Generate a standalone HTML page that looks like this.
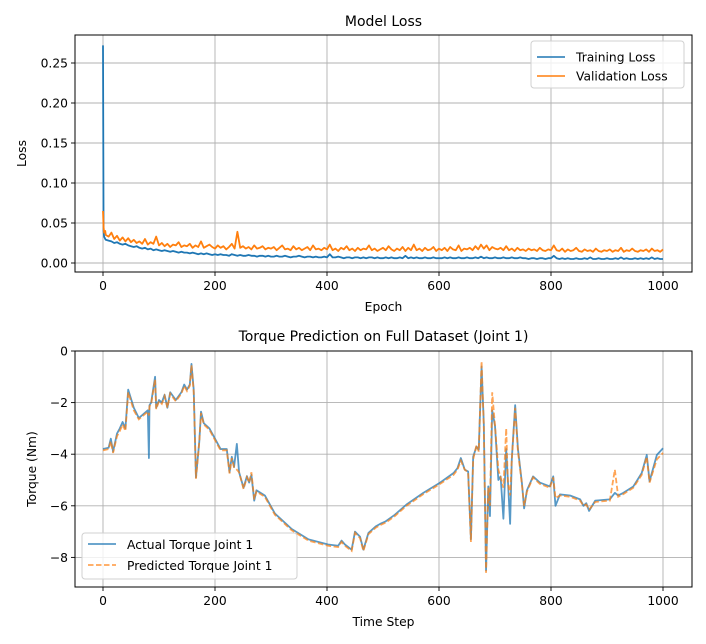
<!DOCTYPE html>
<html><head><meta charset="utf-8"><style>
body{margin:0;background:#fff;}
svg{display:block;font-family:"DejaVu Sans","Liberation Sans",sans-serif;}
</style></head><body>
<svg id="fig" width="706" height="644" viewBox="0 0 706 644" xmlns="http://www.w3.org/2000/svg">
<rect width="706" height="644" fill="#fff"/>
<g id="topchart"></g>
<g id="botchart"></g>
</svg>
<script>
const lossEpochs = [0,1,2,4];
const trainLoss1000 = [272,40,33,30,
29,28,27,25,26,24,23,24,22,21,
20,21,19,18,19,17,18,16,17,16,
15,16,15,14,15,14,13,14,13,13,
12,13,12,11,12,11,12,11,10,11,
10,11,10,10,9,11,10,9,10,9,
9,10,9,9,8,9,9,8,9,8,
8,9,8,8,9,8,7,8,8,9,
8,7,8,8,7,8,7,7,8,7,
11,7,7,8,7,6,7,7,6,7,
7,6,7,6,7,7,6,7,6,6,
7,6,7,6,6,7,6,9,6,7,
6,7,6,6,7,6,6,7,6,6,
6,7,6,7,6,6,7,6,6,7,
6,6,7,6,8,6,7,6,6,7,
6,6,7,6,6,7,6,6,7,6,
6,5,6,6,5,6,6,5,6,6,
9,6,5,6,5,6,5,5,6,5,
5,6,5,7,5,5,6,5,5,6,
5,5,6,5,7,5,6,5,5,6,
5,6,5,6,5,7,5,6,5,5];
const valLoss1000 = [65,45,38,40,
35,33,38,30,34,28,32,27,31,26,
29,25,27,24,30,23,26,24,33,22,
25,21,24,20,23,22,26,20,22,21,
24,19,22,20,27,19,21,23,20,18,
22,19,21,17,20,24,18,39,19,21,
18,20,17,22,18,19,21,17,19,18,
20,16,19,22,17,18,16,21,17,19,
16,18,20,16,22,17,18,16,19,17,
23,16,18,15,19,17,21,16,18,15,
19,16,18,17,22,16,18,15,17,19,
16,21,17,15,18,16,20,15,19,16,
23,16,18,15,19,16,17,20,15,18,
16,19,15,20,17,16,22,15,18,17,
19,16,21,17,23,18,22,16,20,18,
17,19,16,21,16,18,15,19,16,17,
15,18,16,17,15,19,16,15,17,16,
22,16,15,18,14,17,15,16,19,15,
14,17,15,16,14,18,15,14,16,15,
17,14,16,15,19,14,16,15,18,15,
14,16,15,17,14,18,15,16,14,17];
for(let e=5;e<=1000;e+=5) lossEpochs.push(e);
const lossYTicks = [0,0.05,0.10,0.15,0.20,0.25];
const lossYLabels = ["0.00","0.05","0.10","0.15","0.20","0.25"];
const xTicks = [0,200,400,600,800,1000];

const torqueSteps = [0,10,14,18,25,30,35,40,45,55,64,80,82,83,86,93,95,100,105,110,115,120,130,140,145,150,155,158,162,166,172,175,180,190,200,210,221,226,230,234,239,243,251,257,261,265,270,274,289,307,337,367,402,420,426,432,444,450,459,465,474,487,495,505,521,542,572,602,626,633,639,646,652,657,661,667,671,676,680,684,688,691,695,700,706,710,715,720,723,727,730,736,741,748,752,757,768,780,798,804,808,816,834,852,858,863,868,879,905,914,920,929,947,962,971,976,989,1000];
const actualTorque = [-3.8,-3.75,-3.4,-3.9,-3.2,-3.0,-2.75,-3.0,-1.5,-2.2,-2.6,-2.3,-4.15,-2.1,-2.0,-1.0,-2.2,-1.9,-2.0,-1.7,-2.2,-1.6,-1.9,-1.6,-1.3,-1.5,-1.3,-0.5,-1.5,-4.9,-3.5,-2.35,-2.8,-3.0,-3.4,-3.8,-3.8,-4.7,-4.1,-4.5,-3.6,-4.7,-5.3,-4.85,-5.1,-4.8,-5.8,-5.4,-5.6,-6.3,-6.9,-7.3,-7.5,-7.55,-7.35,-7.5,-7.7,-7.0,-7.2,-7.7,-7.05,-6.8,-6.7,-6.6,-6.35,-5.95,-5.5,-5.1,-4.73,-4.54,-4.15,-4.6,-4.67,-7.3,-4.1,-3.7,-3.83,-0.6,-2.8,-8.5,-5.25,-6.4,-2.3,-2.9,-5.0,-4.86,-6.5,-3.8,-5.0,-6.7,-4.2,-2.1,-3.8,-5.1,-6.1,-5.4,-4.86,-5.1,-5.25,-4.86,-6.0,-5.56,-5.6,-5.75,-6.0,-5.9,-6.2,-5.8,-5.75,-5.5,-5.6,-5.5,-5.25,-4.73,-4.03,-5.05,-4.03,-3.77];
const predictedTorque = [-3.85,-3.8,-3.5,-3.95,-3.3,-3.1,-2.85,-3.1,-1.6,-2.3,-2.65,-2.35,-2.5,-2.15,-2.05,-1.1,-2.25,-1.95,-2.05,-1.75,-2.2,-1.65,-1.95,-1.65,-1.35,-1.55,-1.35,-0.55,-1.6,-4.95,-3.5,-2.4,-2.85,-3.05,-3.45,-3.85,-3.85,-4.75,-4.15,-4.5,-4.6,-4.7,-5.35,-4.9,-5.1,-4.7,-5.75,-5.45,-5.65,-6.35,-6.95,-7.35,-7.55,-7.6,-7.4,-7.55,-7.75,-7.05,-7.25,-7.75,-7.1,-6.85,-6.75,-6.65,-6.4,-6.0,-5.55,-5.15,-4.8,-4.6,-4.25,-4.6,-4.7,-7.4,-4.2,-3.65,-3.9,-0.4,-2.9,-8.6,-5.3,-6.0,-1.6,-2.9,-4.6,-4.9,-5.3,-3.0,-5.1,-5.6,-4.2,-2.2,-3.9,-5.15,-6.0,-5.45,-4.9,-5.15,-5.3,-4.9,-5.7,-5.6,-5.65,-5.8,-6.0,-5.95,-6.15,-5.85,-5.8,-4.6,-5.65,-5.55,-5.3,-4.8,-4.1,-5.1,-4.2,-3.95];
const torqueYTicks = [0,-2,-4,-6,-8];
const torqueYLabels = ["0","−2","−4","−6","−8"];

const NS="http://www.w3.org/2000/svg";
function mk(parent,tag,attrs,text){const el=document.createElementNS(NS,tag);for(const k in attrs)el.setAttribute(k,attrs[k]);if(text!==undefined)el.textContent=text;parent.appendChild(el);return el;}

const L=75,R=692;
function xs(v){return 103+v*0.56;}
function poly(parent,xsArr,ysArr,fx,fy,attrs){
 let d='';for(let i=0;i<xsArr.length;i++)d+=(i?'L':'M')+fx(xsArr[i]).toFixed(2)+' '+fy(ysArr[i]).toFixed(2);
 attrs.d=d;attrs.fill='none';return mk(parent,'path',attrs);
}
const FS=12.3, TS=14;

// ---------- Top chart ----------
const topG=document.getElementById('topchart');
const T1=35,B1=272;
function ys1(v){return 263-v*800;}
const title1=mk(topG,'text',{x:383.5,y:26,'font-size':TS,'text-anchor':'middle',fill:'#000'},'Model Loss');


xTicks.forEach((t,i)=>{
 const g=mk(topG,'line',{x1:xs(t),x2:xs(t),y1:T1,y2:B1,stroke:'#b0b0b0','stroke-width':0.9});
 
 
 mk(topG,'line',{x1:xs(t),x2:xs(t),y1:B1,y2:B1+4,stroke:'#000','stroke-width':0.9});
 const tl=mk(topG,'text',{x:xs(t),y:B1+18,'font-size':FS,'text-anchor':'middle'},String(t));
 
 
});
lossYTicks.forEach((t,i)=>{
 const g=mk(topG,'line',{x1:L,x2:R,y1:ys1(t),y2:ys1(t),stroke:'#b0b0b0','stroke-width':0.9});
 
 
 mk(topG,'line',{x1:L-4,x2:L,y1:ys1(t),y2:ys1(t),stroke:'#000','stroke-width':0.9});
 const tl=mk(topG,'text',{x:L-7,y:ys1(t)+4.5,'font-size':FS,'text-anchor':'end'},lossYLabels[i]);
 
 
});
const trainP=poly(topG,lossEpochs,trainLoss1000,xs,v=>ys1(v/1000),{stroke:'#1f77b4','stroke-width':1.8,'stroke-linejoin':'round'});


const valP=poly(topG,lossEpochs,valLoss1000,xs,v=>ys1(v/1000),{stroke:'#ff7f0e','stroke-width':1.8,'stroke-linejoin':'round'});


mk(topG,'rect',{x:L,y:T1,width:R-L,height:B1-T1,fill:'none',stroke:'#000','stroke-width':1});
const xt1=mk(topG,'text',{x:383.5,y:311,'font-size':FS,'text-anchor':'middle'},'Epoch');


const yt1=mk(topG,'text',{x:26,y:153.5,'font-size':FS,'text-anchor':'middle',transform:'rotate(-90 26 153.5)'},'Loss');


const lg1=mk(topG,'g',{});


mk(lg1,'rect',{x:531,y:41,width:153,height:47,rx:3,fill:'#fff','fill-opacity':0.8,stroke:'#d0d0d0'});
mk(lg1,'line',{x1:537,x2:565,y1:57,y2:57,stroke:'#1f77b4','stroke-width':1.6});
mk(lg1,'text',{x:576,y:61.5,'font-size':FS},'Training Loss');
mk(lg1,'line',{x1:537,x2:565,y1:76,y2:76,stroke:'#ff7f0e','stroke-width':1.6});
mk(lg1,'text',{x:576,y:80.5,'font-size':FS},'Validation Loss');

// ---------- Bottom chart ----------
const botG=document.getElementById('botchart');
const T2=351,B2=587;
function ys2(v){return 351-v*25.8;}
const title2=mk(botG,'text',{x:383.5,y:341,'font-size':TS,'text-anchor':'middle'},'Torque Prediction on Full Dataset (Joint 1)');


xTicks.forEach((t,i)=>{
 const g=mk(botG,'line',{x1:xs(t),x2:xs(t),y1:T2,y2:B2,stroke:'#b0b0b0','stroke-width':0.9});
 
 
 mk(botG,'line',{x1:xs(t),x2:xs(t),y1:B2,y2:B2+4,stroke:'#000','stroke-width':0.9});
 const tl=mk(botG,'text',{x:xs(t),y:B2+18,'font-size':FS,'text-anchor':'middle'},String(t));
 
 
});
torqueYTicks.forEach((t,i)=>{
 const g=mk(botG,'line',{x1:L,x2:R,y1:ys2(t),y2:ys2(t),stroke:'#b0b0b0','stroke-width':0.9});
 
 
 mk(botG,'line',{x1:L-4,x2:L,y1:ys2(t),y2:ys2(t),stroke:'#000','stroke-width':0.9});
 const tl=mk(botG,'text',{x:L-7,y:ys2(t)+4.5,'font-size':FS,'text-anchor':'end'},torqueYLabels[i]);
 
 
});
const actP=poly(botG,torqueSteps,actualTorque,xs,ys2,{stroke:'#1f77b4','stroke-opacity':0.75,'stroke-width':1.8,'stroke-linejoin':'round'});


const preP=poly(botG,torqueSteps,predictedTorque,xs,ys2,{stroke:'#ff7f0e','stroke-opacity':0.7,'stroke-width':1.8,'stroke-dasharray':'5.5 2.5'});


mk(botG,'rect',{x:L,y:T2,width:R-L,height:B2-T2,fill:'none',stroke:'#000','stroke-width':1});
const xt2=mk(botG,'text',{x:383.5,y:626,'font-size':FS,'text-anchor':'middle'},'Time Step');


const yt2=mk(botG,'text',{x:36,y:469,'font-size':FS,'text-anchor':'middle',transform:'rotate(-90 36 469)'},'Torque (Nm)');


const lg2=mk(botG,'g',{});


mk(lg2,'rect',{x:82,y:533,width:215,height:46,rx:3,fill:'#fff','fill-opacity':0.8,stroke:'#d0d0d0'});
mk(lg2,'line',{x1:88,x2:116,y1:544,y2:544,stroke:'#1f77b4','stroke-opacity':0.75,'stroke-width':1.8});
mk(lg2,'text',{x:127,y:549,'font-size':FS},'Actual Torque Joint 1');
mk(lg2,'line',{x1:88,x2:116,y1:565,y2:565,stroke:'#ff7f0e','stroke-opacity':0.7,'stroke-width':1.8,'stroke-dasharray':'5.5 2.5'});
mk(lg2,'text',{x:127,y:570,'font-size':FS},'Predicted Torque Joint 1');
</script>
</body></html>
